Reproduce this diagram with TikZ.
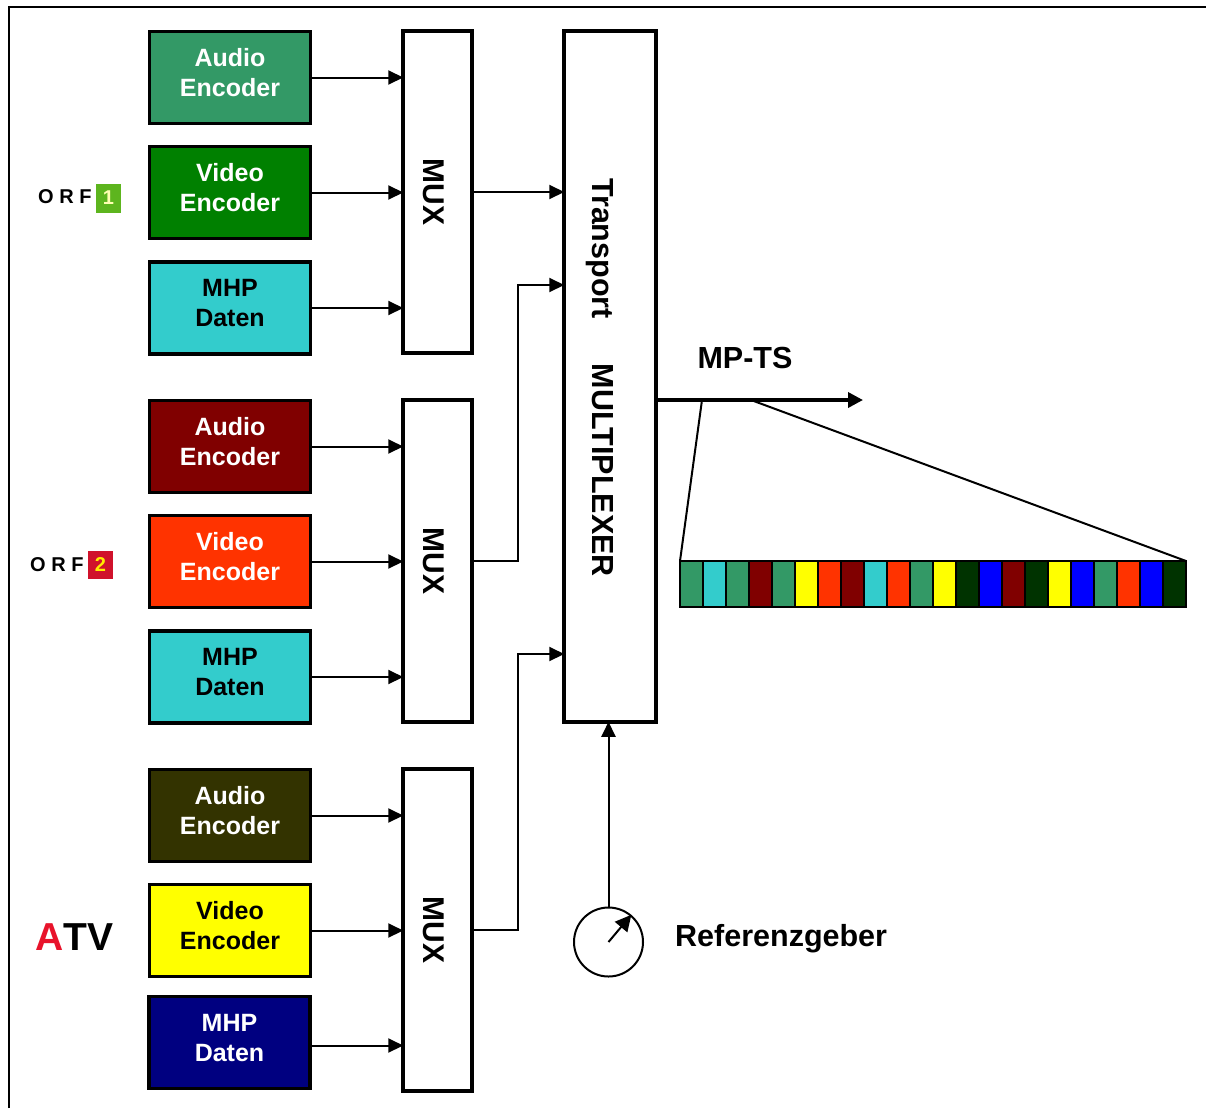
\documentclass[tikz,border=0pt]{standalone}
\usepackage{fontspec}
\setmainfont{Liberation Sans}
\newfontfamily\logofont[LetterSpace=28,Ligatures=NoCommon]{Liberation Sans}
\usetikzlibrary{positioning,arrows.meta,calc}
\definecolor{seegruen}{HTML}{339966}
\definecolor{gruen}{HTML}{008000}
\definecolor{tuerkis}{HTML}{33CCCC}
\definecolor{dunkelrot}{HTML}{800000}
\definecolor{orangerot}{HTML}{FF3300}
\definecolor{oliv}{HTML}{333300}
\definecolor{gelb}{HTML}{FFFF00}
\definecolor{marine}{HTML}{000080}
\definecolor{blau}{HTML}{0000FF}
\definecolor{tannengruen}{HTML}{003300}
\definecolor{orfgruen}{HTML}{5DB51E}
\definecolor{orfrot}{HTML}{D0122B}
\definecolor{atvrot}{HTML}{E8132B}
\tikzset{
  encoder/.style={draw, line width=3.5pt, minimum width=161pt, minimum height=92pt, inner sep=0pt,
    align=center, font=\fontsize{25}{30}\selectfont\bfseries, text depth=10pt},
  muxbox/.style={draw, line width=3.5pt, minimum width=69pt, minimum height=322pt, inner sep=0pt,
    label={[rotate=-90, yshift=-3.5pt, font=\fontsize{30}{30}\selectfont\bfseries]center:MUX}},
  pfeil/.style={line width=2pt, shorten >=-2pt, -{Triangle[length=15pt,width=14pt]}},
  logoschrift/.style={inner sep=0pt, font=\fontsize{20}{20}\logofont\bfseries},
  titel/.style={inner sep=0pt, font=\fontsize{30.5}{30}\selectfont\bfseries}
}
\begin{document}
\begin{tikzpicture}[x=1pt, y=-1pt]
    \useasboundingbox (0,0) rectangle (1206,1108);
    % rahmen, nur oben und links sichtbar
    \draw[line width=2pt] (9,1108) -- (9,7) -- (1206,7);
    % encoder, drei programme
    \node[encoder, fill=seegruen, text=white] (audioA) at (230,77.5) {Audio\\Encoder};
    \node[encoder, fill=gruen, text=white] (videoA) at (230,192.5) {Video\\Encoder};
    \node[encoder, fill=tuerkis] (mhpA) at (230,308) {MHP\\Daten};
    \node[encoder, fill=dunkelrot, text=white] (audioB) at (230,446.5) {Audio\\Encoder};
    \node[encoder, fill=orangerot, text=white] (videoB) at (230,561.5) {Video\\Encoder};
    \node[encoder, fill=tuerkis] (mhpB) at (230,677) {MHP\\Daten};
    \node[encoder, fill=oliv, text=white] (audioC) at (230,815.5) {Audio\\Encoder};
    \node[encoder, fill=gelb] (videoC) at (230,930.5) {Video\\Encoder};
    \node[encoder, fill=marine, text=white] (mhpC) at (229.5,1042.5) {MHP\\Daten};
    % mux und multiplexer
    \node[muxbox] (muxA) at (437.5,192) {};
    \node[muxbox] (muxB) at (437.5,561) {};
    \node[muxbox] (muxC) at (437.5,930) {};
    \node[draw, line width=3.5pt, minimum width=92pt, minimum height=691pt, inner sep=0pt] (transport) at (610,376.5) {};
    \node[titel, rotate=-90] (transporttext) at (600,377.5) {Transport\hspace{45pt}MULTIPLEXER};
    % logos
    \node[logoschrift, anchor=west] (orfA) at (38,197) {ORF};
    \node[fill=orfgruen, minimum width=25pt, minimum height=29pt, inner sep=0pt, text=gelb!30,
      font=\fontsize{20}{20}\selectfont\bfseries] (einsA) at (108.5,198) {1};
    \node[logoschrift, anchor=west] (orfB) at (30,565) {ORF};
    \node[fill=orfrot, minimum width=25pt, minimum height=28pt, inner sep=0pt, text=gelb!85!orange,
      font=\fontsize{20}{20}\selectfont\bfseries] (zweiB) at (100.5,565) {2};
    \node[inner sep=0pt, anchor=west, font=\fontsize{39}{39}\selectfont\bfseries] (atv) at (35,937)
      {\textcolor{atvrot}{A}TV};
    % verbindungen
    \foreach \quelle/\ziel in {audioA/muxA,videoA/muxA,mhpA/muxA,audioB/muxB,videoB/muxB,mhpB/muxB,
                              audioC/muxC,videoC/muxC}
      \draw[pfeil] (\quelle.east) -- (\quelle.east -| \ziel.west);
    \coordinate (mhpCaus) at ($(mhpC.east)+(0,3)$);
    \draw[pfeil] (mhpCaus) -- (mhpCaus -| muxC.west);
    \coordinate (knickB) at (518,285);
    \coordinate (knickC) at (518,654);
    \draw[pfeil] (muxA.east) -- (muxA.east -| transport.west);
    \draw[pfeil] (muxB.east) -| (knickB) -- (knickB -| transport.west);
    \draw[pfeil] (muxC.east) -| (knickC) -- (knickC -| transport.west);
    % referenz
    \node[draw, circle, line width=2pt, minimum size=69pt, inner sep=0pt] (referenz) at (608.5,942) {};
    \draw[pfeil] (referenz.north) -- (referenz.north |- transport.south);
    \draw[line width=2pt, -{Triangle[length=16pt,width=16pt]}] (referenz.center) -- (referenz.50);
    \node[titel, anchor=west] (referenztext) at (675,938.5) {Referenzgeber};
    % ausgang mit paketstrom
    \coordinate (ausgang) at (transport.east |- 0,400);
    \coordinate (ende) at (863,400);
    \draw[line width=3.5pt, -{Triangle[length=15pt,width=15pt]}] (ausgang) -- (ende);
    \node[titel] (mpts) at (745,358) {MP-TS};
    \coordinate (lupeA) at (702,400);
    \coordinate (lupeB) at (751,400);
    \coordinate (stromA) at (680,561);
    \coordinate (stromB) at (1186,561);
    \draw[line width=2pt] (lupeA) -- (stromA);
    \draw[line width=2pt] (lupeB) -- (stromB);
    \foreach \farbe [count=\i from 0] in {seegruen,tuerkis,seegruen,dunkelrot,seegruen,gelb,orangerot,dunkelrot,
        tuerkis,orangerot,seegruen,gelb,tannengruen,blau,dunkelrot,tannengruen,gelb,blau,seegruen,orangerot,blau,tannengruen}
      \draw[line width=2pt, fill=\farbe] (680+\i*23,561) rectangle (703+\i*23,607);
\end{tikzpicture}
\end{document}
